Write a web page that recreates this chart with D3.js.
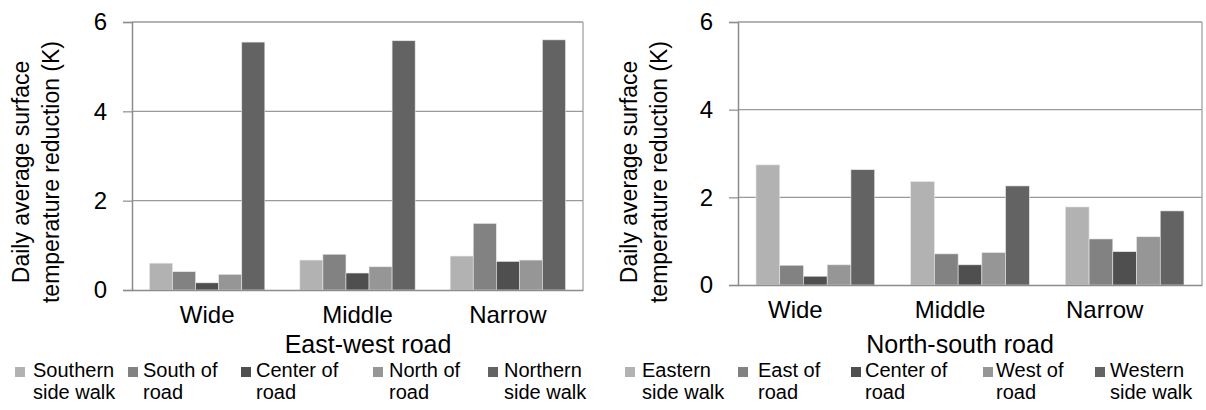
<!DOCTYPE html>
<html lang="en">
<head>
<meta charset="utf-8">
<title>surface temperature reduction</title>
<script src="https://d3js.org/d3.v7.min.js"></script>
<style type="text/css">
  body { margin: 0; background: #fff; }
  svg text { font-family: "Liberation Sans", Arial, sans-serif; fill: #000; }
  .cat-label { font-size: 24px; text-anchor: middle; }
  .axis-title { font-size: 25px; text-anchor: middle; }
  .y-title { font-size: 23px; text-anchor: middle; }
  .legend text { font-size: 20px; }
</style>
</head>
<body>
<div id="chart"></div>
<script type="text/javascript">

// categories and series
var categories = ["Wide", "Middle", "Narrow"];
var yTicks = [0, 2, 4, 6];

// East-west road
var ewLabels = [["Southern", "side walk"], ["South of", "road"], ["Center of", "road"], ["North of", "road"], ["Northern", "side walk"]];
var ewSouthernSidewalk = [0.60, 0.67, 0.76];
var ewSouthOfRoad      = [0.41, 0.80, 1.49];
var ewCenterOfRoad     = [0.16, 0.38, 0.64];
var ewNorthOfRoad      = [0.35, 0.52, 0.67];
var ewNorthernSidewalk = [5.55, 5.58, 5.60];

// North-south road
var nsLabels = [["Eastern", "side walk"], ["East of", "road"], ["Center of", "road"], ["West of", "road"], ["Western", "side walk"]];
var nsEasternSidewalk = [2.74, 2.36, 1.78];
var nsEastOfRoad      = [0.45, 0.71, 1.05];
var nsCenterOfRoad    = [0.20, 0.46, 0.76];
var nsWestOfRoad      = [0.46, 0.74, 1.10];
var nsWesternSidewalk = [2.63, 2.26, 1.69];

var colors = ["#b2b2b2", "#828282", "#4f4f4f", "#969696", "#636363"];

var W = 1206, H = 410;

var svg = d3.select("#chart")
  .append("svg")
  .attr("width", W)
  .attr("height", H);

function drawChart(cfg) {
  var g = svg.append("g");
  var seriesIdx = d3.range(cfg.series.length);

  var y = d3.scaleLinear().domain([0, 6]).range([cfg.bottom, cfg.top]);

  var x0 = d3.scaleBand()
    .domain(categories)
    .range([cfg.left, cfg.right])
    .paddingInner(0.233)
    .paddingOuter(0.1165);

  var x1 = d3.scaleBand()
    .domain(seriesIdx)
    .range([0, x0.bandwidth()]);

  // gridlines
  g.selectAll(".grid")
    .data(yTicks.filter(function(d) { return d > 0; }))
    .enter()
    .append("line")
    .attr("x1", cfg.left)
    .attr("x2", cfg.right)
    .attr("y1", function(d) { return y(d); })
    .attr("y2", function(d) { return y(d); })
    .style("stroke", "#9a9a9a")
    .style("stroke-width", 1.2);

  // frame right side
  g.append("line")
    .attr("x1", cfg.right).attr("x2", cfg.right)
    .attr("y1", cfg.top).attr("y2", cfg.bottom)
    .style("stroke", "#9a9a9a")
    .style("stroke-width", 1.2);

  // bars
  var groups = g.selectAll(".cat")
    .data(categories)
    .enter()
    .append("g")
    .attr("transform", function(d) { return "translate(" + x0(d) + ",0)"; });

  groups.selectAll("rect")
    .data(function(d, ci) {
      return seriesIdx.map(function(si) { return { s: si, v: cfg.series[si][ci] }; });
    })
    .enter()
    .append("rect")
    .attr("x", function(d) { return x1(d.s); })
    .attr("y", function(d) { return y(d.v); })
    .attr("width", x1.bandwidth())
    .attr("height", function(d) { return y(0) - y(d.v); })
    .style("fill", function(d) { return colors[d.s]; })
    .style("stroke", "#e6e6e6")
    .style("stroke-width", 0.6);

  // y axis
  var yAxis = d3.axisLeft(y)
    .tickValues(yTicks)
    .tickSize(9)
    .tickPadding(16)
    .tickFormat(d3.format("d"));

  var ya = g.append("g")
    .attr("transform", "translate(" + cfg.left + ",0)")
    .call(yAxis);
  ya.select(".domain").style("stroke", "#8c8c8c").style("stroke-width", 1.5);
  ya.selectAll(".tick line").style("stroke", "#8c8c8c").style("stroke-width", 1.2);
  ya.selectAll(".tick text")
    .style("font-size", "24px")
    .style("font-family", "Liberation Sans, Arial, sans-serif")
    .style("fill", "#000");

  // x axis (plain line, no ticks)
  var xAxis = d3.axisBottom(x0).tickSize(0).tickFormat("");
  var xa = g.append("g")
    .attr("transform", "translate(0," + cfg.bottom + ")")
    .call(xAxis);
  xa.select(".domain").style("stroke", "#8c8c8c").style("stroke-width", 1.5);

  // top frame
  g.append("line")
    .attr("x1", cfg.left).attr("x2", cfg.right)
    .attr("y1", cfg.top).attr("y2", cfg.top)
    .style("stroke", "#9a9a9a")
    .style("stroke-width", 1.2);

  // category labels
  g.selectAll(".cat-label")
    .data(categories)
    .enter()
    .append("text")
    .attr("class", "cat-label")
    .attr("x", function(d) { return x0(d) + x0.bandwidth() / 2 + cfg.catShift; })
    .attr("y", cfg.bottom + 33)
    .text(function(d) { return d; });

  // x title
  g.append("text")
    .attr("class", "axis-title")
    .attr("x", cfg.titleX)
    .attr("y", 353)
    .text(cfg.title);

  // y title, two lines
  var yt = g.append("text")
    .attr("class", "y-title")
    .attr("transform", "translate(" + cfg.yTitleX + "," + 172 + ") rotate(-90)");
  yt.append("tspan").attr("x", 0).attr("y", 0).text("Daily average surface");
  yt.append("tspan").attr("x", 0).attr("y", cfg.yTitleGap).text("temperature reduction (K)");

  // legend
  var lg = g.selectAll(".legend")
    .data(seriesIdx)
    .enter()
    .append("g")
    .attr("class", "legend");

  lg.append("rect")
    .attr("x", function(d) { return cfg.legendBoxX[d]; })
    .attr("y", 367)
    .attr("width", 10)
    .attr("height", 10)
    .style("fill", function(d) { return colors[d]; });

  var lt = lg.append("text");
  lt.append("tspan")
    .attr("x", function(d) { return cfg.legendTextX[d]; })
    .attr("y", 377)
    .text(function(d) { return cfg.labels[d][0]; });
  lt.append("tspan")
    .attr("x", function(d) { return cfg.legendTextX[d]; })
    .attr("y", 399)
    .text(function(d) { return cfg.labels[d][1]; });
}

drawChart({
  left: 132, right: 583, top: 22, bottom: 290,
  series: [ewSouthernSidewalk, ewSouthOfRoad, ewCenterOfRoad, ewNorthOfRoad, ewNorthernSidewalk],
  labels: ewLabels,
  title: "East-west road",
  titleX: 368,
  catShift: 0,
  yTitleX: 29,
  yTitleGap: 30,
  legendBoxX: [15, 128, 241, 373, 488],
  legendTextX: [33, 143, 256, 389, 504]
});

drawChart({
  left: 738, right: 1202, top: 22, bottom: 285,
  series: [nsEasternSidewalk, nsEastOfRoad, nsCenterOfRoad, nsWestOfRoad, nsWesternSidewalk],
  labels: nsLabels,
  title: "North-south road",
  titleX: 960,
  catShift: -20,
  yTitleX: 637,
  yTitleGap: 30,
  legendBoxX: [625, 738, 851, 983, 1095],
  legendTextX: [642, 758, 865, 996, 1110]
});

</script>
</body>
</html>
